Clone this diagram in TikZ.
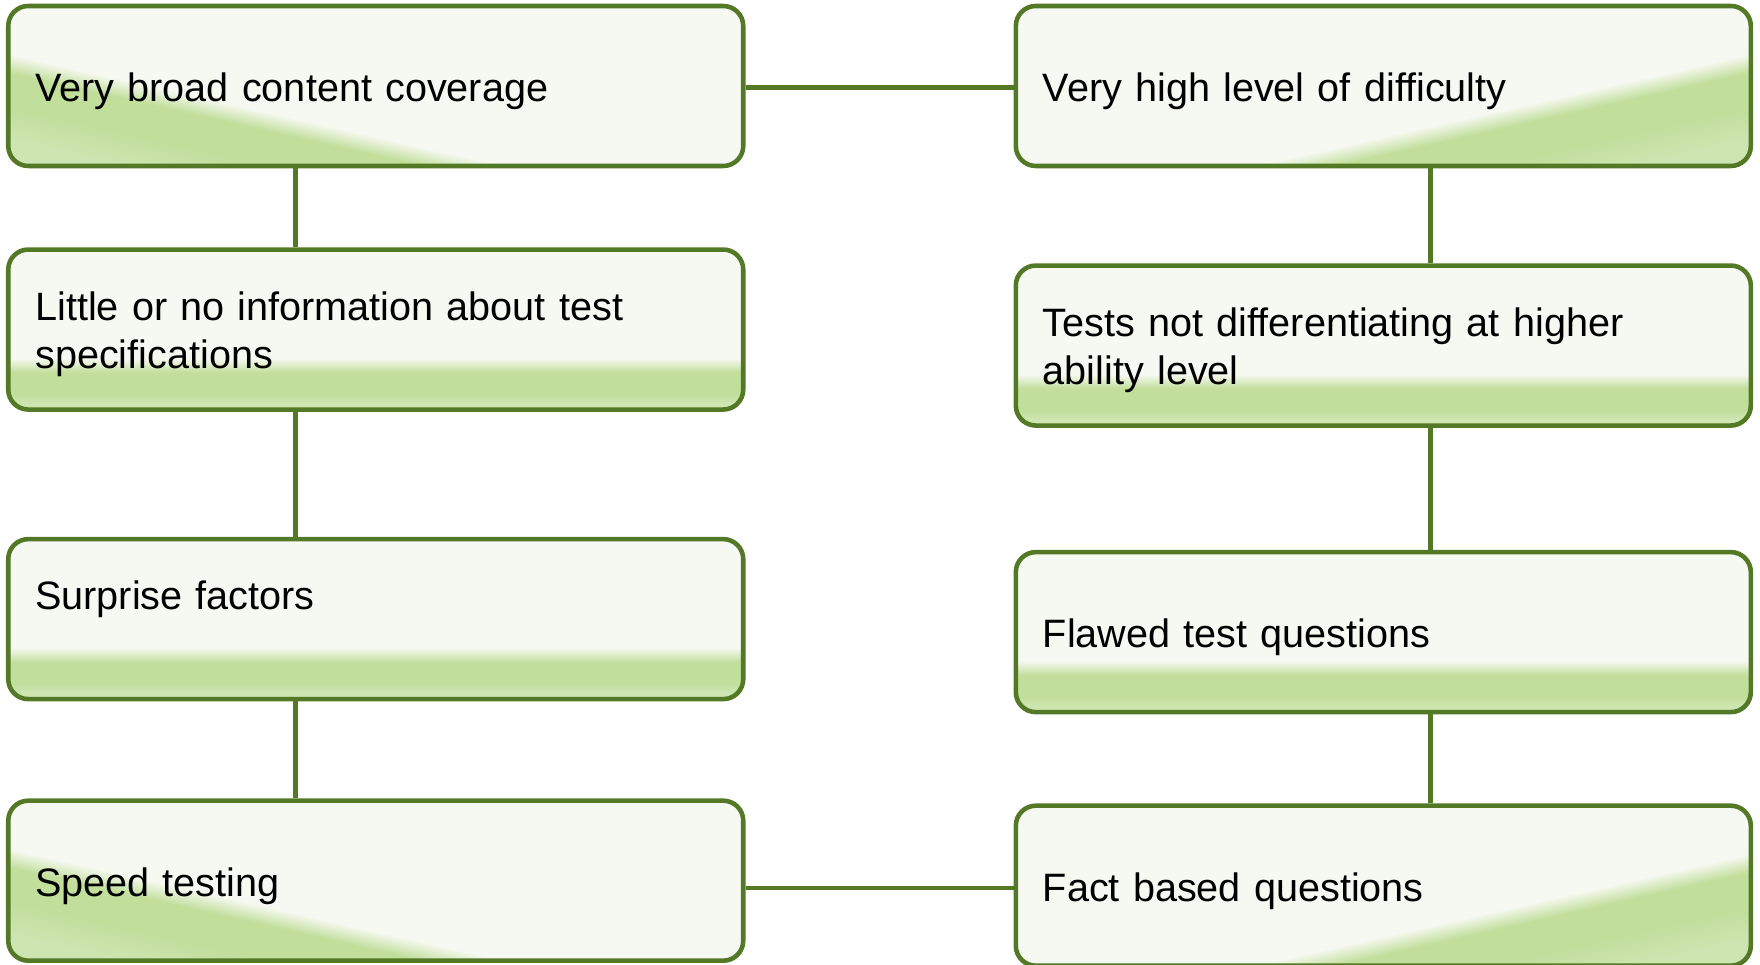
\documentclass[tikz,border=0pt]{standalone}
\usepackage{fontspec}
\setmainfont{Liberation Sans}
\usetikzlibrary{positioning}

\definecolor{edge}{RGB}{84,121,38}
\definecolor{paper}{RGB}{246,249,241}
\definecolor{leaf}{RGB}{193,222,155}
\definecolor{leaflt}{RGB}{205,229,176}

\pgfdeclarehorizontalshading{corner}{100bp}{color(0bp)=(leaflt); color(25bp)=(leaflt); color(31bp)=(leaf); color(37.2bp)=(leaf); color(40.7bp)=(paper); color(100bp)=(paper)}
\pgfdeclareverticalshading{band}{100bp}{color(0bp)=(leaflt); color(27bp)=(leaflt); color(30bp)=(leaf); color(36.5bp)=(leaf); color(41bp)=(paper); color(100bp)=(paper)}

\begin{document}
\begin{tikzpicture}[line width=1.3pt,
    box/.style={draw=edge, shade, rounded corners=0.2cm, rectangle,
      minimum width=7.35cm, minimum height=1.6cm, text width=6.81cm,
      text height=0.39cm, inner xsep=0.27cm, align=left,
      font=\fontsize{11.27}{13.66}\selectfont},
    cornerL/.style={box, shading=corner, shading angle=77.3},
    cornerR/.style={box, shading=corner, shading angle=102.7},
    bandbox/.style={box, shading=band},
    link/.style={draw=edge}]
  \useasboundingbox (0,0) rectangle (17.6,9.65);

  % left column
  \node[cornerL] (L1) at (3.7575,8.79) {Very broad content coverage};
  \node[bandbox] (L2) [below=0.79cm of L1] {Little or no information about test\\specifications};
  \node[bandbox, text depth=0.58cm] (L3) [below=1.25cm of L2] {Surprise factors};
  \node[cornerL] (L4) [below=0.97cm of L3] {Speed testing};

  % right column
  \node[cornerR] (R1) [right=2.68cm of L1] {Very high level of difficulty};
  \node[bandbox] (R2) [below=0.95cm of R1] {Tests not differentiating at higher\\ability level};
  \node[bandbox] (R3) [below=1.22cm of R2] {Flawed test questions};
  \node[cornerR] (R4) [below=0.89cm of R3] {Fact based questions};

  \foreach \a/\b in {L1/L2,L2/L3,L3/L4}
    \draw[link] ([xshift=-0.805cm]\a.south) -- ([xshift=-0.805cm]\b.north);
  \foreach \a/\b in {R1/R2,R2/R3,R3/R4}
    \draw[link] ([xshift=0.47cm]\a.south) -- ([xshift=0.47cm]\b.north);
  \draw[link] ([yshift=-0.015cm]L1.east) -- ([yshift=-0.015cm]L1.east -| R1.west);
  \draw[link] ([yshift=-0.025cm]R4.west) -- ([yshift=-0.025cm]R4.west -| L4.east);
\end{tikzpicture}
\end{document}
